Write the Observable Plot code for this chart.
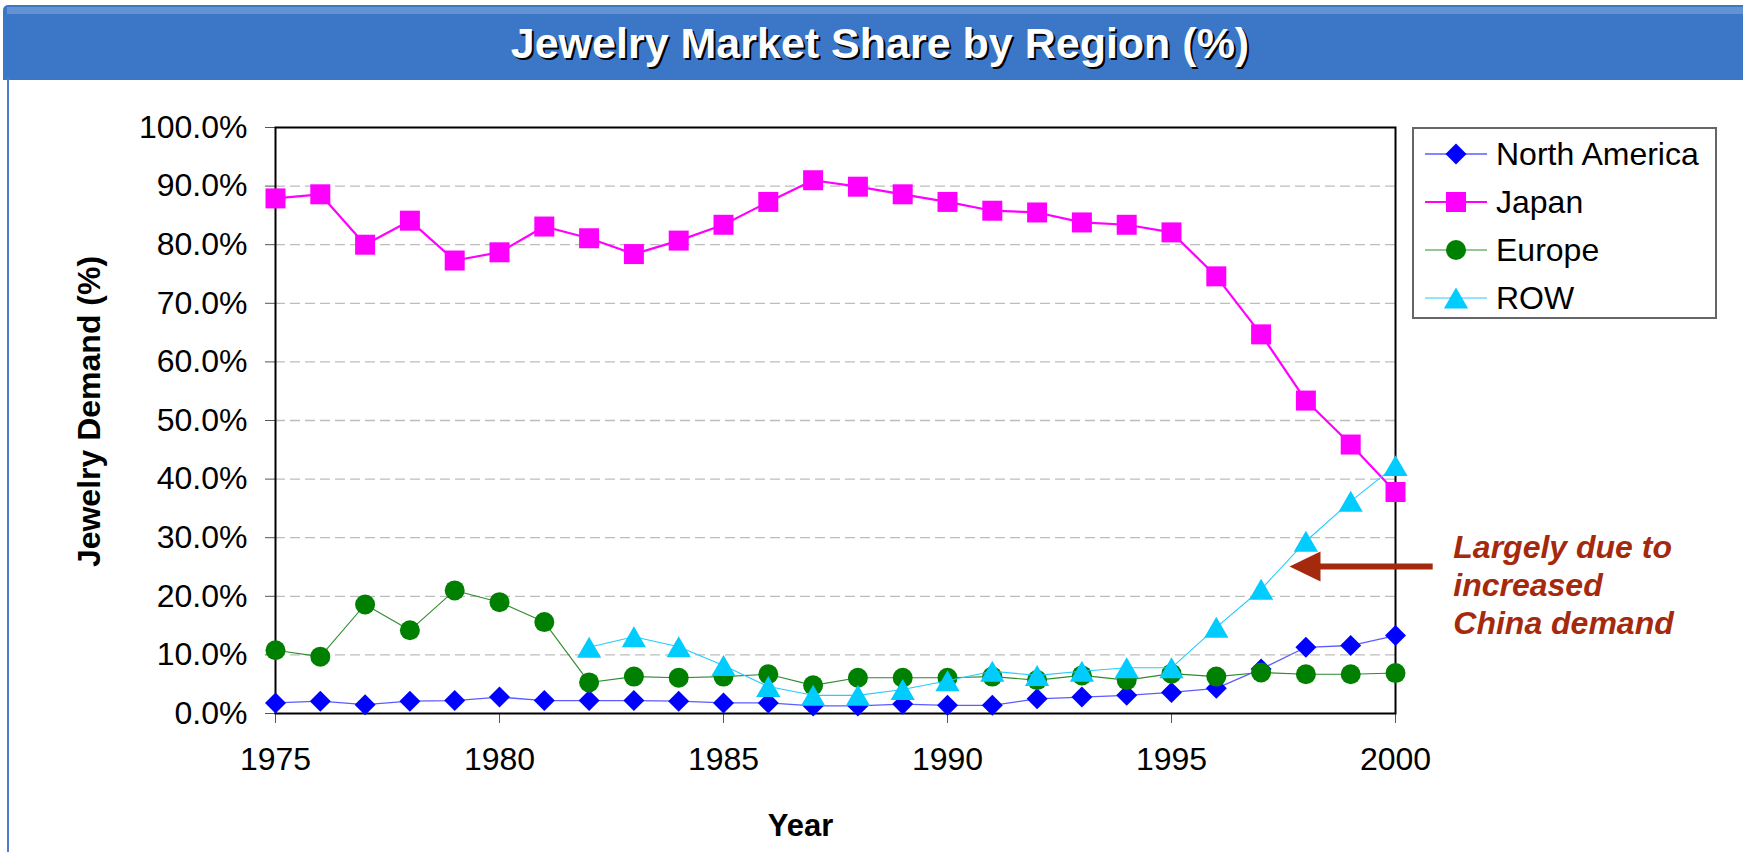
<!DOCTYPE html>
<html>
<head>
<meta charset="utf-8">
<script src="https://cdn.jsdelivr.net/npm/d3@7"></script>
<script src="https://cdn.jsdelivr.net/npm/@observablehq/plot@0.6"></script>
<style>
  body { margin: 0; background: #fff; font-family: Arial, "Liberation Sans", sans-serif; }
  #page { position: relative; width: 1743px; height: 852px; overflow: hidden; background: #fff; }
  #banner { position: absolute; left: 3px; top: 5px; width: 1740px; height: 75px; background: #3B77C6; border-radius: 5px 0 0 0; }
  #strip { position: absolute; left: 4px; top: 2px; right: 0; height: 7px; background: #6393D3; }
  #title { position: absolute; left: 14px; right: 0; top: 17px; text-align: center; font-weight: bold;
           font-size: 43px; line-height: 43px; color: #fff; text-shadow: 2px 2px 0 #000; white-space: nowrap; }
  #chart { position: absolute; left: 0; top: 85px; }
  #leftline { position: absolute; left: 7px; top: 78px; width: 2px; height: 774px; background: #4A7EC8; }
  #legend { position: absolute; left: 1412px; top: 127px; width: 301px; height: 188px; border: 2px solid #666; background: #fff; }
  .lrow { position: absolute; left: 0; height: 48px; width: 301px; }
  .lrow svg { position: absolute; left: 11px; top: 0; }
  .lrow span { position: absolute; left: 82px; top: 0; font-size: 32px; line-height: 48px; color: #000; white-space: nowrap; }
</style>
</head>
<body>
<div id="page">
  <div id="banner"><div id="strip"></div><div id="title">Jewelry Market Share by Region (%)</div></div>
  <div id="chart"></div>
  <div id="leftline"></div>
  <div id="legend"></div>
</div>
<script>
// ---- data ----
const years = [1975,1976,1977,1978,1979,1980,1981,1982,1983,1984,1985,1986,1987,1988,1989,1990,1991,1992,1993,1994,1995,1996,1997,1998,1999,2000];
const northAmerica = [1.8,2.1,1.5,2.1,2.2,2.8,2.2,2.2,2.2,2.1,1.8,1.8,1.3,1.3,1.6,1.4,1.4,2.5,2.8,3.1,3.6,4.3,7.6,11.3,11.6,13.3];
const japan = [87.9,88.6,80.0,84.1,77.3,78.7,83.1,81.1,78.4,80.7,83.4,87.3,91.0,89.9,88.6,87.3,85.8,85.5,83.8,83.4,82.1,74.6,64.7,53.4,45.9,37.8];
const europe = [10.8,9.7,18.6,14.2,21.0,19.0,15.6,5.3,6.3,6.1,6.3,6.7,4.8,6.1,6.1,6.1,6.3,5.7,6.5,5.7,6.8,6.3,7.0,6.7,6.7,6.9];
const restOfWorld = [null,null,null,null,null,null,null,11.3,13.1,11.4,8.2,4.6,3.1,3.1,4.1,5.6,7.2,6.5,7.2,7.8,7.8,14.7,21.2,29.4,36.2,42.3];
const regionNames = ["North America","Japan","Europe","ROW"];
const yTicks = [0,0.1,0.2,0.3,0.4,0.5,0.6,0.7,0.8,0.9,1.0];
const xTicks = [1975,1980,1985,1990,1995,2000];
const yLabel = "Jewelry Demand (%)";
const xLabel = "Year";
const annotationText = "Largely due to\nincreased\nChina demand";

// ---- styles ----
const seriesValues = [northAmerica, japan, europe, restOfWorld];
const markerColors = ["#0000FF","#FF00FF","#008000","#00CCFF"];
const lineColors = ["#5C5CFF","#FF00FF","#2E8B2E","#22CCFF"];
const lineWidths = [1.3, 2.2, 1.1, 1.1];
const plotSymbols = ["diamond2","square","circle","triangle"];
const d3Symbols = [d3.symbolDiamond2, d3.symbolSquare, d3.symbolCircle, d3.symbolTriangle];
const radii = [9.46, 11.28, 10, 9.0];
const dys = [0, 0, 0, 3.5];
const annColor = "#A52A0D";
// annotation placement (data coordinates)
const ann = {textX: 2001.29, textY: 0.312, arrowTail: 2000.83, arrowShaftEnd: 1998.2, arrowHead: 1997.98, arrowY: 0.251};

const rows = [];
years.forEach((yr, i) => {
  seriesValues.forEach((vals, k) => {
    if (vals[i] != null) rows.push({year: yr, region: regionNames[k], value: vals[i] / 100});
  });
});

const seriesMarks = regionNames.flatMap((name, k) => {
  const d = rows.filter(r => r.region === name);
  return [
    Plot.line(d, {x: "year", y: "value", stroke: lineColors[k], strokeWidth: lineWidths[k]}),
    Plot.dot(d, {x: "year", y: "value", symbol: plotSymbols[k], r: radii[k], fill: markerColors[k], dy: dys[k]})
  ];
});

const arrowHeadSymbol = {
  draw(context) {
    context.moveTo(-15.5, 0);
    context.lineTo(15.5, -15);
    context.lineTo(15.5, 15);
    context.closePath();
  }
};

const chart = Plot.plot({
  width: 1743,
  height: 767,
  marginLeft: 275,
  marginRight: 348,
  marginTop: 42,
  marginBottom: 139,
  x: {domain: [1975, 2000]},
  y: {domain: [0, 1]},
  style: {fontFamily: "Arial, 'Liberation Sans', sans-serif", background: "transparent", overflow: "visible", color: "#000"},
  marks: [
    Plot.gridY(yTicks.slice(1, 10), {stroke: "#bdbdbd", strokeOpacity: 1, strokeWidth: 1.3, strokeDasharray: "10,5"}),
    Plot.axisY(yTicks, {tickFormat: d3.format(".1%"), tickSize: 10, tickPadding: 18, fontSize: 32, stroke: "#555", fill: "#000", label: null}),
    Plot.axisX(xTicks, {tickFormat: d => String(d), tickSize: 10, tickPadding: 24, fontSize: 32, stroke: "#555", fill: "#000", label: null}),
    Plot.frame({stroke: "#000", strokeWidth: 2}),
    ...seriesMarks,
    Plot.text([yLabel], {text: d => d, frameAnchor: "left", textAnchor: "middle", dx: -186, dy: -9, rotate: -90, fontSize: 32, fontWeight: "bold", fill: "#000"}),
    Plot.text([xLabel], {text: d => d, frameAnchor: "bottom", dx: -35, dy: 122, lineAnchor: "bottom", fontSize: 31, fontWeight: "bold", fill: "#000"}),
    Plot.link([0], {x1: ann.arrowTail, x2: ann.arrowShaftEnd, y1: ann.arrowY, y2: ann.arrowY, stroke: annColor, strokeWidth: 6}),
    Plot.dot([0], {x: ann.arrowHead, y: ann.arrowY, symbol: arrowHeadSymbol, r: 10, fill: annColor}),
    Plot.text([annotationText], {text: d => d, x: ann.textX, y: ann.textY, textAnchor: "start", lineAnchor: "top", lineHeight: 1.19, fontSize: 32, fontWeight: "bold", fontStyle: "italic", fill: annColor})
  ]
});
document.getElementById("chart").appendChild(chart);

// ---- legend ----
const legend = d3.select("#legend");
regionNames.forEach((name, k) => {
  const row = legend.append("div").attr("class", "lrow").style("top", (1 + 48 * k) + "px");
  const svg = row.append("svg").attr("width", 62).attr("height", 48);
  svg.append("line").attr("x1", 0).attr("x2", 62).attr("y1", 24).attr("y2", 24)
    .attr("stroke", lineColors[k]).attr("stroke-width", lineWidths[k]);
  svg.append("path").attr("transform", `translate(31,${24 + dys[k]})`)
    .attr("d", d3.symbol(d3Symbols[k], Math.PI * radii[k] * radii[k])())
    .attr("fill", markerColors[k]);
  row.append("span").text(name);
});
</script>
</body>
</html>
